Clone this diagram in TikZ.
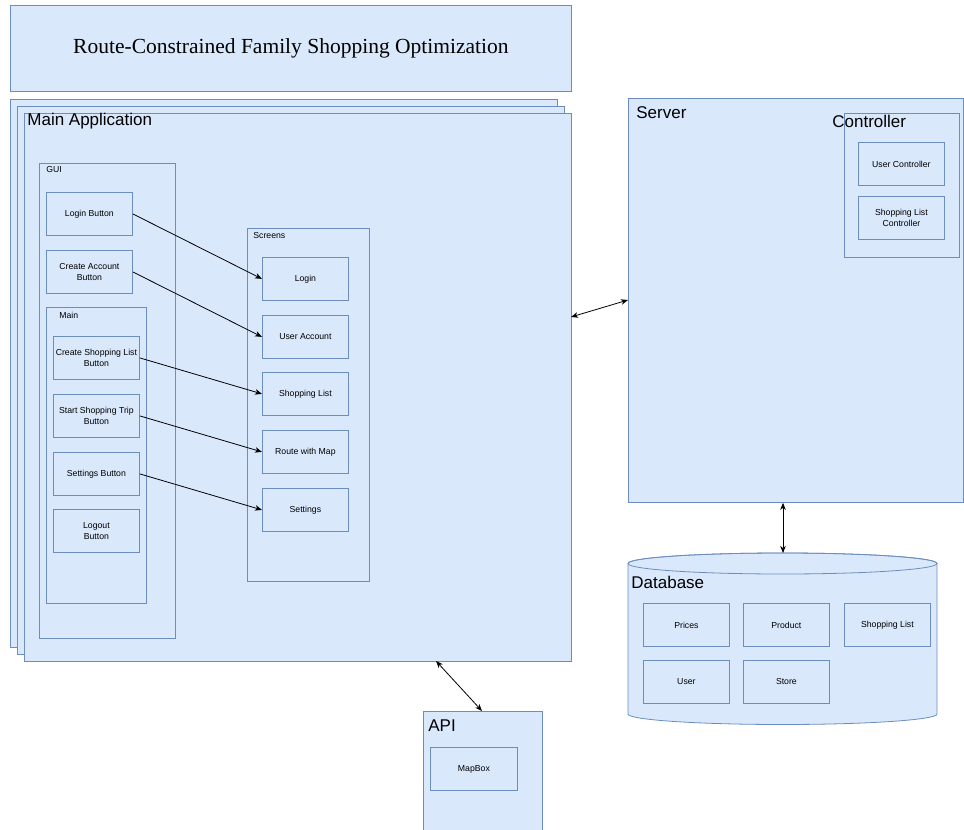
\documentclass[tikz,border=0pt]{standalone}
\usepackage{fontspec}
\setmainfont{Liberation Sans}
\newfontfamily\titlefont{Liberation Serif}
\usetikzlibrary{arrows.meta}

\definecolor{boxfill}{HTML}{DAE8FC}
\definecolor{boxline}{HTML}{6C8EBF}

\begin{document}
\begin{tikzpicture}[
	x = 1pt, y = -1pt, % one unit per pixel, y grows downwards
	> = {Stealth[length = 7pt, width = 5.5pt, inset = 2pt]}, % arrow head style
	line width = 0.8pt
	]
	\useasboundingbox (0,0) rectangle (964,830);
	
	\tikzstyle{frame}=[
	draw = boxline,
	fill = boxfill,
	inner sep = 0pt,
	anchor = north west
	]
	\tikzstyle{item}=[
	frame,
	minimum width = 86pt,
	minimum height = 43pt,
	align = center,
	font = \fontsize{8.7}{10.7}\selectfont
	]
	\tikzstyle{small}=[anchor = west, inner sep = 0pt, font = \fontsize{8.7}{10.7}\selectfont]
	\tikzstyle{big}=[anchor = west, inner sep = 0pt, font = \fontsize{17}{20}\selectfont]
	
	% title
	\node[frame, minimum width = 561pt, minimum height = 86pt, font = \titlefont\fontsize{21.5}{24}\selectfont] (title) at (10,5) {\raisebox{-2pt}{Route-Constrained Family Shopping Optimization}};
	
	% main application (stacked)
	\node[frame, minimum width = 547pt, minimum height = 548pt] (back) at (10,99) {};
	\node[frame, minimum width = 547pt, minimum height = 548pt] (mid) at (17,106) {};
	\node[frame, minimum width = 547pt, minimum height = 548pt] (app) at (24,113) {};
	\node[big] (applabel) at (27,121) {Main Application};
	
	% GUI
	\node[frame, minimum width = 136pt, minimum height = 475pt] (gui) at (39,163) {};
	\node[small] (guilabel) at (46,170) {GUI};
	\node[item] (loginbtn) at (46,192) {Login Button};
	\node[item] (accountbtn) at (46,250) {Create Account\\Button};
	
	\node[frame, minimum width = 100pt, minimum height = 296pt] (main) at (46,307) {};
	\node[small] (mainlabel) at (59,315) {Main};
	\node[item] (listbtn) at (53,336) {Create Shopping List\\Button};
	\node[item] (tripbtn) at (53,394) {Start Shopping Trip\\Button};
	\node[item] (settingsbtn) at (53,452) {Settings Button};
	\node[item] (logoutbtn) at (53,509) {Logout\\Button};
	
	% screens
	\node[frame, minimum width = 122pt, minimum height = 353pt] (screens) at (247,228) {};
	\node[small] (screenslabel) at (253,236) {Screens};
	\node[item] (loginscr) at (262,257) {Login};
	\node[item] (accountscr) at (262,315) {User Account};
	\node[item] (listscr) at (262,372) {Shopping List};
	\node[item] (routescr) at (262,430) {Route with Map};
	\node[item] (settingsscr) at (262,488) {Settings};
	
	% server
	\node[frame, minimum width = 335pt, minimum height = 404pt] (server) at (628,98) {};
	\node[big] (serverlabel) at (636,113) {Server};
	\node[frame, minimum width = 115pt, minimum height = 144pt] (controller) at (844,113) {};
	\node[big] (controllerlabel) at (832,121) {Controller};
	\node[item] (userctrl) at (858,142) {User Controller};
	\node[item] (listctrl) at (858,196) {Shopping List\\Controller};
	
	% database
	\path[draw = boxline, fill = boxfill] (628,563.5) -- (628,714)
		arc[start angle = 180, end angle = 360, x radius = 154.5pt, y radius = 10.5pt]
		-- (937,563.5)
		arc[start angle = 0, end angle = 180, x radius = 154.5pt, y radius = 10.5pt] -- cycle;
	\draw[boxline] (782.5,563.5) ellipse [x radius = 154.5pt, y radius = 10.5pt];
	\coordinate (dbtop) at (783,553);
	\node[big] (dblabel) at (631,582) {Database};
	\node[item] (prices) at (643,603) {Prices};
	\node[item] (product) at (743,603) {Product};
	\node[item] (dblist) at (844,603) {Shopping List};
	\node[item] (user) at (643,660) {User};
	\node[item] (store) at (743,660) {Store};
	
	% api
	\node[frame, minimum width = 119pt, minimum height = 130pt] (api) at (423,711) {};
	\node[big] (apilabel) at (428,726) {API};
	\node[item, minimum width = 87pt] (mapbox) at (430,747) {MapBox};
	
	% connectors
	\coordinate (appport) at (571,317);
	\coordinate (serverport) at (628,300);
	\coordinate (appbottom) at (436,661);
	\coordinate (apitop) at (482,711);
	
	\path[->] (loginbtn.east) edge (loginscr.west);
	\path[->] (accountbtn.east) edge (accountscr.west);
	\path[->] (listbtn.east) edge (listscr.west);
	\path[->] (tripbtn.east) edge (routescr.west);
	\path[->] (settingsbtn.east) edge (settingsscr.west);
	
	\path[<->] (appport) edge (serverport);
	\path[<->] (server.south -| dbtop) edge (dbtop);
	\path[<->] (appbottom) edge (apitop);
	
\end{tikzpicture}
\end{document}
